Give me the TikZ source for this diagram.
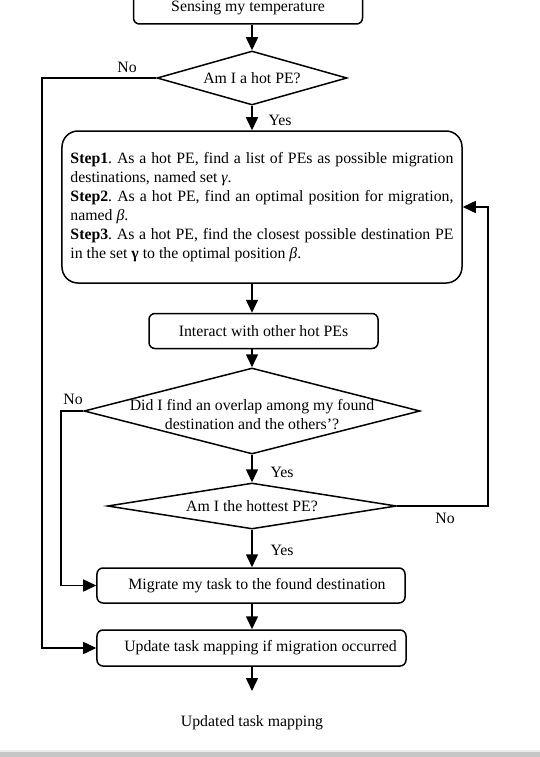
\documentclass[tikz,border=0pt]{standalone}
\usepackage{fontspec}
\setmainfont{Liberation Serif}
\usetikzlibrary{arrows.meta,shapes.geometric}
\frenchspacing

\begin{document}
\begin{tikzpicture}[x=1bp,y=-1bp,line width=1.5bp,
  box/.style={draw,rounded corners=6bp,inner sep=0pt},
  dia/.style={draw,diamond,inner sep=0pt},
  >={Triangle[length=13bp,width=12bp]},
  font=\fontsize{15.8bp}{19bp}\selectfont]

\useasboundingbox (0,0) rectangle (540,757);

\node[box,minimum width=229bp,minimum height=42bp,label={[yshift=-5bp]center:Sensing my temperature}] (sense) at (248,3) {};
\node[dia,minimum width=190bp,minimum height=54bp,label=center:{Am I a hot PE?}] (hot) at (252,78) {};
\node[box,rounded corners=16bp,minimum width=400bp,minimum height=152bp,text width=383bp,align=justify] (steps) at (262,207) {\hyphenpenalty=10000
  \textbf{Step1}. As a hot PE, find a list of PEs as possible migration destinations, named set \textit{γ}.\\
  \textbf{Step2}. As a hot PE, find an optimal position for migration, named \textit{β}.\\
  \textbf{Step3}. As a hot PE, find the closest possible destination PE in the set \textbf{γ} to the optimal position \textit{β}.};
\node[box,minimum width=229bp,minimum height=35bp] (inter) at (263.5,331) {Interact with other hot PEs};
\node[dia,minimum width=336bp,minimum height=86bp,label={[align=center,yshift=-4bp]center:Did I find an overlap among my found\\destination and the others'?}] (ovl) at (252,411) {};
\node[dia,minimum width=289bp,minimum height=46bp,label=center:{Am I the hottest PE?}] (hottest) at (252,506) {};
\node[box,minimum width=308bp,minimum height=35bp] (migr) at (251,585.5) {\hspace*{12bp}Migrate my task to the found destination};
\node[box,minimum width=309bp,minimum height=36bp] (upd) at (251.5,648) {\hspace*{18bp}Update task mapping if migration occurred};
\coordinate (end) at (252,691);
\node (out) at (252,723) {Updated task mapping};

\node (no1) at (127,67) {No};
\node (yes1) at (280,120) {Yes};
\node (no2) at (73,399) {No};
\node (yes2) at (282,472) {Yes};
\node (no3) at (445,518) {No};
\node (yes3) at (282,550) {Yes};

\path[->] (hot |- sense.south) edge (hot.north)
  (hot.south) edge (hot |- steps.north)
  (hot |- steps.south) edge (hot |- inter.north)
  (hot |- inter.south) edge (ovl.north)
  (ovl.south) edge (hottest.north)
  (hottest.south) edge (hot |- migr.north)
  (hot |- migr.south) edge (hot |- upd.north)
  (hot |- upd.south) edge (end);

\coordinate (l1) at (42,78);
\coordinate (l2) at (61,411);
\coordinate (r1) at (488,506);
\draw[->] (hot.west) -- (l1) |- (upd.west);
\draw[->] (ovl.west) -- (l2) |- (migr.west);
\draw[->] (hottest.east) -- (r1) |- (steps.east);

\fill[gray!15] (0,750) rectangle (540,752);
\fill[gray!45] (0,752) rectangle (540,757);

\end{tikzpicture}
\end{document}
